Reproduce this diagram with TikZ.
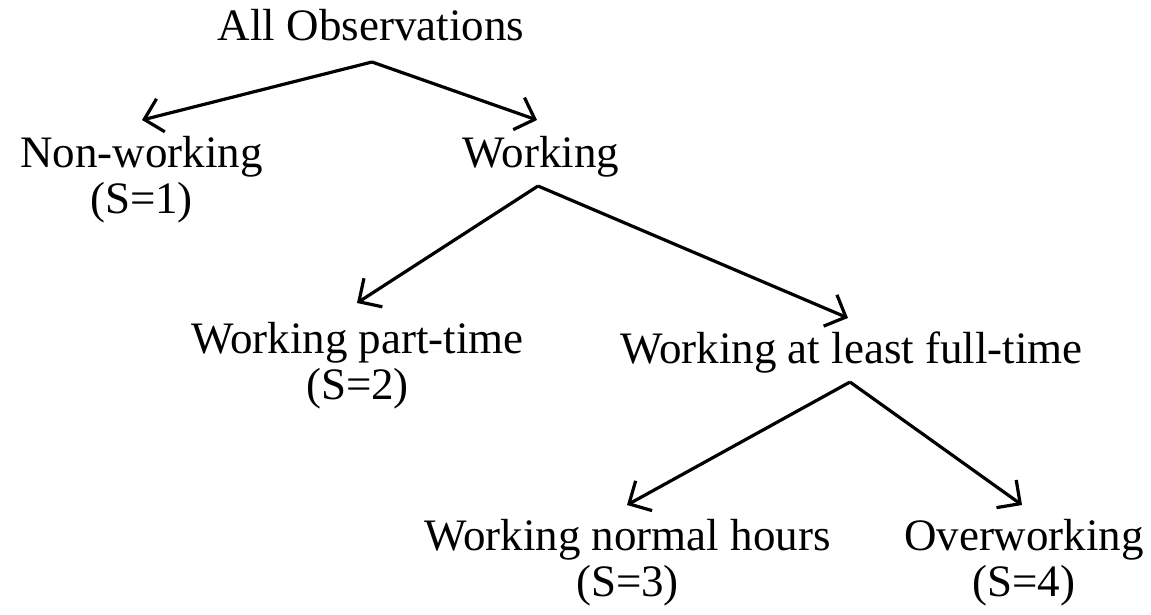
\documentclass[tikz,border=0pt]{standalone}
\usepackage{fontspec}
\setmainfont{Liberation Serif}
\usetikzlibrary{positioning,calc,arrows.meta}

\begin{document}
\begin{tikzpicture}[
    x=1pt, y=-1pt,% picture measured in pixels, y down
    every node/.style = {inner sep=0pt, anchor=base, align=center,
                         font=\fontsize{45}{46}\selectfont},
       arr/.style = {line width=3.2pt, -{Straight Barb[length=17pt,width=34pt,line width=3.2pt]}}% connector style
    ]
    \useasboundingbox (0,0) rectangle (1151,614);
    % levels of the tree (base = last line)
    \node (obs)    at (371,40)    {All Observations};
    \node (non)    at (141.5,213) {Non-working\\(S=1)};
    \node (work)   at (541,167)   {Working};
    \node (part)   at (357.5,399) {Working part-time\\(S=2)};
    \node (full)   at (851.5,363) {Working at least full-time};
    \node (normal) at (627.5,596) {Working normal hours\\(S=3)};
    \node (over)   at (1024,596)  {Overworking\\(S=4)};
    % split points below each parent
    \coordinate (obs-split)  at ($(obs.base)+(1,22)$);
    \coordinate (work-split) at ($(work.base)+(-3,19)$);
    \coordinate (full-split) at ($(full.base)+(-1.5,19)$);
    \draw[arr] (obs-split) -- ($(non.base)+(0.5,-93)$);
    \draw[arr] (obs-split) -- ($(work.base)+(-4,-47)$);
    \draw[arr] (work-split) -- ($(part.base)+(-0.5,-96)$);
    \draw[arr] (work-split) -- ($(full.base)+(-3.5,-45)$);
    \draw[arr] (full-split) -- ($(normal.base)+(-0.5,-91)$);
    \draw[arr] (full-split) -- ($(over.base)+(-2,-91)$);
\end{tikzpicture}
\end{document}
